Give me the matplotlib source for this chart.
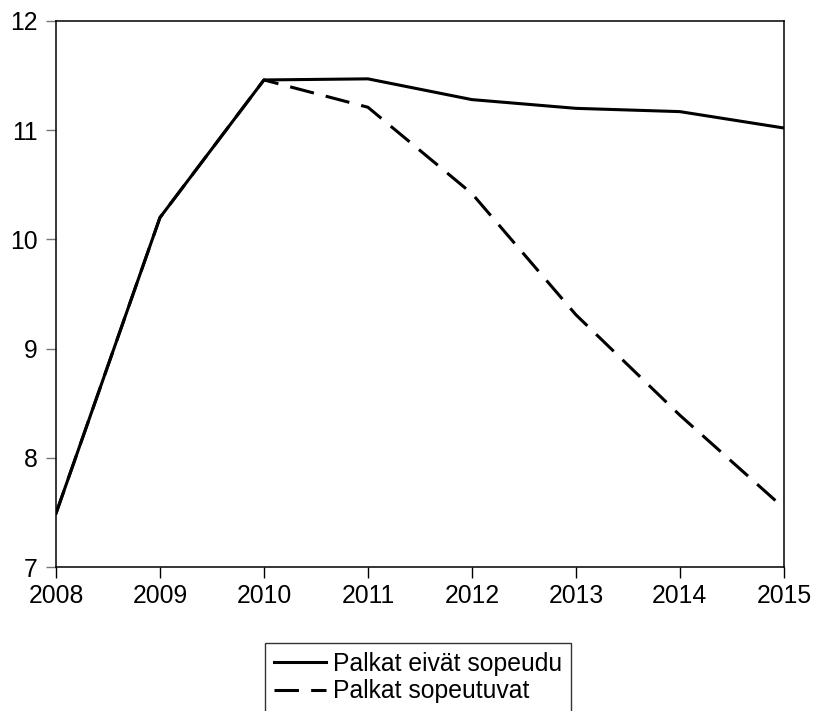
import matplotlib.pyplot as plt

plt.rcParams['font.family'] = ['Liberation Sans', 'DejaVu Sans']

# data
years = [2008, 2009, 2010, 2011, 2012, 2013, 2014, 2015]
no_adjust = [7.49, 10.20, 11.46, 11.47, 11.28, 11.20, 11.17, 11.02]
adjust_years = [2008, 2009, 2010, 2011, 2012, 2013, 2014, 2015]
adjust = [7.49, 10.20, 11.46, 11.21, 10.42, 9.31, 8.39, 7.54]

fig = plt.figure(figsize=(8.16, 7.11), dpi=100)
ax = fig.add_axes([0.0686, 0.2025, 0.892, 0.768])

ax.plot(adjust_years, adjust, color='black', lw=2.2, linestyle=(0, (8, 4)),
        label='Palkat sopeutuvat')
ax.plot(years, no_adjust, color='black', lw=2.2, label='Palkat eivät sopeudu')

ax.set_xlim(2008, 2015)
ax.set_ylim(7, 12)
ax.set_xticks(years)
ax.set_yticks([7, 8, 9, 10, 11, 12])

ax.tick_params(axis='both', labelsize=17.8)
ax.tick_params(axis='y', direction='out', length=7, width=1, color='#777777', pad=6)
ax.tick_params(axis='x', direction='out', length=8, width=1, pad=4)
for s in ax.spines.values():
    s.set_linewidth(1.1)

# legend below the plot, solid line first (its bottom runs off the figure)
h, l = ax.get_legend_handles_labels()
leg = fig.legend(h[::-1], l[::-1], loc='upper left',
                 bbox_to_anchor=(265 / 816, 1 - 643 / 711),
                 fontsize=17.8, frameon=True, fancybox=False,
                 handlelength=2.1, handletextpad=0.3, labelspacing=0.15,
                 borderpad=0.35, borderaxespad=0)
leg.get_frame().set_edgecolor('black')
leg.get_frame().set_linewidth(1.0)

fig.savefig('out.png', dpi=100)
